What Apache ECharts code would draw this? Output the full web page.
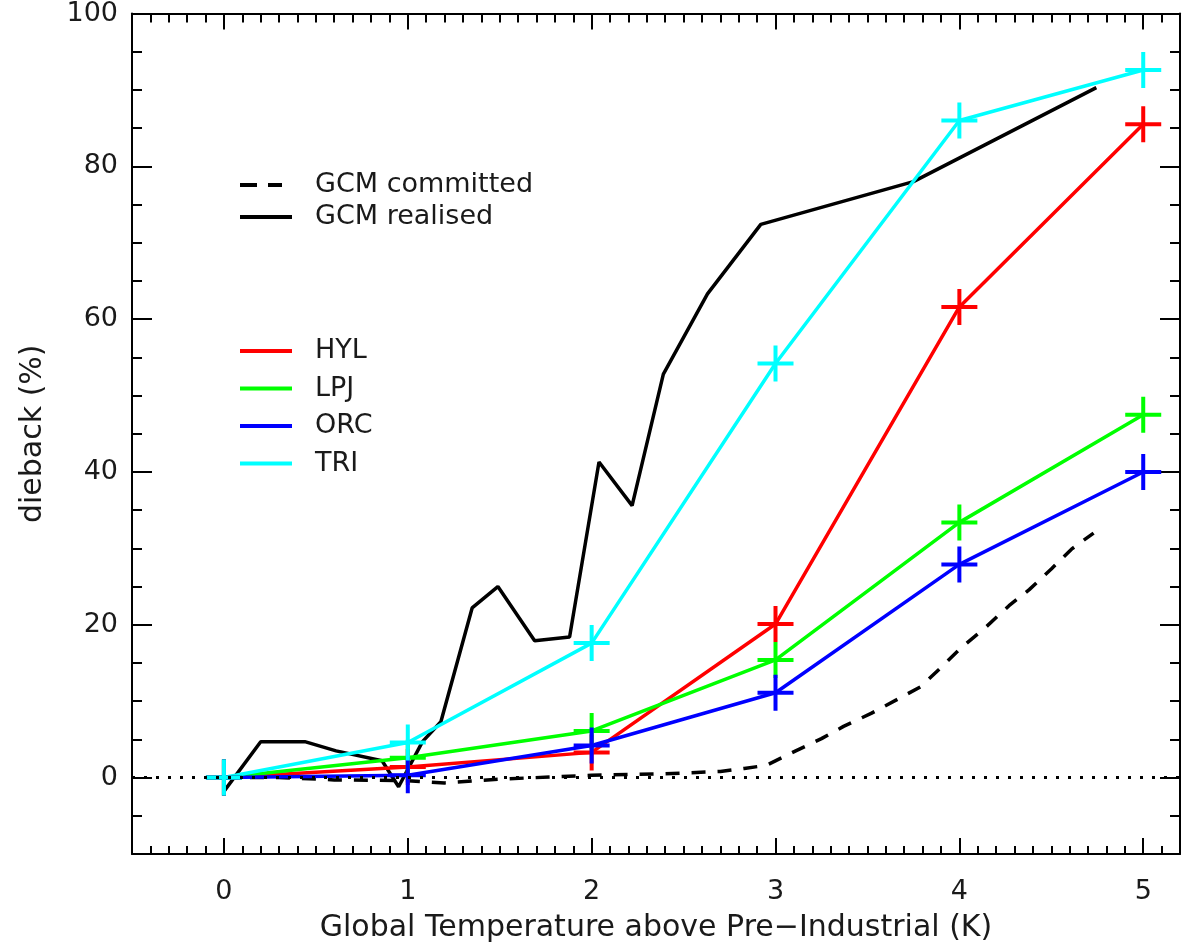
<!DOCTYPE html>
<html>
<head>
<meta charset="utf-8">
<script src="https://cdn.jsdelivr.net/npm/echarts@6/dist/echarts.min.js"></script>
<style>
  html, body { margin: 0; padding: 0; background: #fff; }
  #chart { width: 1184px; height: 948px; }
</style>
</head>
<body>
<div id="chart"></div>
<script>
// ---- data ----
const modelTemps = [0, 1, 2, 3, 4, 5];
const hylValues = [0, 1.4, 3.3, 20.1, 61.6, 85.5];
const lpjValues = [0, 2.6, 6.1, 15.4, 33.4, 47.5];
const orcValues = [0, 0.3, 4.2, 11.1, 27.9, 40.0];
const triValues = [0, 4.6, 17.6, 54.2, 86.0, 92.6];

const realisedTemps = [0, 0.2, 0.44, 0.61, 0.86, 0.95, 1.08, 1.18, 1.35, 1.49, 1.69, 1.88, 2.04, 2.22, 2.39, 2.63, 2.92, 3.75, 4.745];
const realisedValues = [-1.8, 4.7, 4.7, 3.5, 2.2, -1.2, 4.7, 7.3, 22.2, 25.0, 17.9, 18.4, 41.3, 35.6, 52.8, 63.3, 72.4, 78.0, 90.3];

const committedTemps = [0, 0.3, 0.6, 1.0, 1.2, 1.5, 2.0, 2.4, 2.7, 2.83, 2.95, 3.11, 3.25, 3.37, 3.52, 3.66, 3.79, 3.9, 4.01, 4.14, 4.27, 4.38, 4.5, 4.61, 4.73];
const committedValues = [0, 0, -0.3, -0.4, -0.7, -0.2, 0.3, 0.5, 0.8, 1.2, 1.6, 3.5, 5.1, 6.7, 8.4, 10.2, 11.9, 14.4, 17.0, 19.6, 22.5, 24.6, 27.3, 29.9, 32.0];

const xMajorTicks = [0, 1, 2, 3, 4, 5];
const yMajorTicks = [0, 20, 40, 60, 80, 100];

const xTitle = 'Global Temperature above Pre\u2212Industrial (K)';
const yTitle = 'dieback (%)';

// ---- helpers ----
const pair = (xs, ys) => xs.map((x, i) => [x, ys[i]]);
const FONT = 'DejaVu Sans';
const TXT = '#1a1a1a';
const PLUS = 'path://M16,0 H20 V16 H36 V20 H20 V36 H16 V20 H0 V16 H16 Z';

function modelSeries(name, values, color) {
  return {
    name: name, type: 'line', xAxisIndex: 0, yAxisIndex: 0,
    data: pair(modelTemps, values),
    symbol: PLUS, symbolSize: 36, showSymbol: true,
    lineStyle: { color: color, width: 3.5 },
    itemStyle: { color: color, borderWidth: 0 },
    emphasis: { disabled: true },
    animation: false, z: 3
  };
}

const xBase = { type: 'value', min: -0.5, max: 5.2, gridIndex: 0, splitLine: { show: false } };
const yBase = { type: 'value', min: -10, max: 100, gridIndex: 0, splitLine: { show: false } };
const axisLineStyle = { show: true, onZero: false, lineStyle: { color: '#000', width: 2 } };
const hiddenLine = { show: false, onZero: false };

const option = {
  backgroundColor: '#fff',
  animation: false,
  grid: { left: 132, right: 4, top: 11, bottom: 93, containLabel: false },
  xAxis: [
    Object.assign({}, xBase, {
      position: 'bottom',
      axisLine: axisLineStyle,
      axisTick: { show: true, inside: true, length: 16, customValues: xMajorTicks, lineStyle: { color: '#000', width: 2 } },
      axisLabel: { show: true, customValues: xMajorTicks, margin: 24, fontSize: 27, fontFamily: FONT, color: TXT },
      name: xTitle, nameLocation: 'middle', nameGap: 59,
      nameTextStyle: { fontSize: 30, fontFamily: FONT, color: TXT }
    }),
    Object.assign({}, xBase, {
      position: 'bottom', interval: 0.1,
      axisLine: hiddenLine,
      axisTick: { show: true, inside: true, length: 8, lineStyle: { color: '#000', width: 2 } },
      axisLabel: { show: false }
    }),
    Object.assign({}, xBase, {
      position: 'top',
      axisLine: axisLineStyle,
      axisTick: { show: true, inside: true, length: 16, customValues: xMajorTicks, lineStyle: { color: '#000', width: 2 } },
      axisLabel: { show: false }
    }),
    Object.assign({}, xBase, {
      position: 'top', interval: 0.1,
      axisLine: hiddenLine,
      axisTick: { show: true, inside: true, length: 9, lineStyle: { color: '#000', width: 2 } },
      axisLabel: { show: false }
    })
  ],
  yAxis: [
    Object.assign({}, yBase, {
      position: 'left',
      axisLine: axisLineStyle,
      axisTick: { show: true, inside: true, length: 20, customValues: yMajorTicks, lineStyle: { color: '#000', width: 2 } },
      axisLabel: { show: true, customValues: yMajorTicks, margin: 14, fontSize: 27, fontFamily: FONT, color: TXT },
      name: yTitle, nameLocation: 'middle', nameGap: 84, nameRotate: 90,
      nameTextStyle: { fontSize: 30, fontFamily: FONT, color: TXT }
    }),
    Object.assign({}, yBase, {
      position: 'left', interval: 5,
      axisLine: hiddenLine,
      axisTick: { show: true, inside: true, length: 10, lineStyle: { color: '#000', width: 2 } },
      axisLabel: { show: false }
    }),
    Object.assign({}, yBase, {
      position: 'right',
      axisLine: axisLineStyle,
      axisTick: { show: true, inside: true, length: 20, customValues: yMajorTicks, lineStyle: { color: '#000', width: 2 } },
      axisLabel: { show: false }
    }),
    Object.assign({}, yBase, {
      position: 'right', interval: 5,
      axisLine: hiddenLine,
      axisTick: { show: true, inside: true, length: 10, lineStyle: { color: '#000', width: 2 } },
      axisLabel: { show: false }
    })
  ],
  legend: [
    {
      orient: 'vertical', left: 235, top: 166,
      itemWidth: 52, itemHeight: 4, itemGap: 4,
      symbolKeepAspect: false,
      selectedMode: false,
      textStyle: { fontSize: 27, lineHeight: 28, fontFamily: FONT, color: TXT, padding: [0, 0, 0, 18] },
      data: [
        { name: 'GCM committed', icon: 'path://M0,0H17V4H0Z M28,0H42V4H28Z M51.98,1.99H52V2.01H51.98Z' },
        { name: 'GCM realised', icon: 'path://M0,0H52V4H0Z' }
      ]
    },
    {
      orient: 'vertical', left: 235, top: 332,
      itemWidth: 52, itemHeight: 4, itemGap: 9.5,
      symbolKeepAspect: false,
      selectedMode: false,
      textStyle: { fontSize: 27, lineHeight: 28, fontFamily: FONT, color: TXT, padding: [0, 0, 0, 18] },
      data: [
        { name: 'HYL', icon: 'path://M0,0H52V4H0Z' },
        { name: 'LPJ', icon: 'path://M0,0H52V4H0Z' },
        { name: 'ORC', icon: 'path://M0,0H52V4H0Z' },
        { name: 'TRI', icon: 'path://M0,0H52V4H0Z' }
      ]
    }
  ],
  series: [
    {
      name: 'GCM committed', type: 'line', xAxisIndex: 0, yAxisIndex: 0,
      data: pair(committedTemps, committedValues),
      symbol: 'none', showSymbol: false,
      lineStyle: { color: '#000', width: 3.5, type: [14, 12] },
      itemStyle: { color: '#000' },
      emphasis: { disabled: true },
      markLine: {
        silent: true, symbol: 'none', label: { show: false },
        lineStyle: { color: '#000', width: 3, type: [3, 9] },
        data: [{ yAxis: 0 }]
      },
      z: 2
    },
    {
      name: 'GCM realised', type: 'line', xAxisIndex: 0, yAxisIndex: 0,
      data: pair(realisedTemps, realisedValues),
      symbol: 'none', showSymbol: false,
      lineStyle: { color: '#000', width: 3.5 },
      itemStyle: { color: '#000' },
      emphasis: { disabled: true },
      z: 2
    },
    modelSeries('HYL', hylValues, '#ff0000'),
    modelSeries('LPJ', lpjValues, '#00ff00'),
    modelSeries('ORC', orcValues, '#0000ff'),
    modelSeries('TRI', triValues, '#00ffff')
  ]
};

const chart = echarts.init(document.getElementById('chart'), null, { renderer: 'canvas' });
chart.setOption(option);
</script>
</body>
</html>
